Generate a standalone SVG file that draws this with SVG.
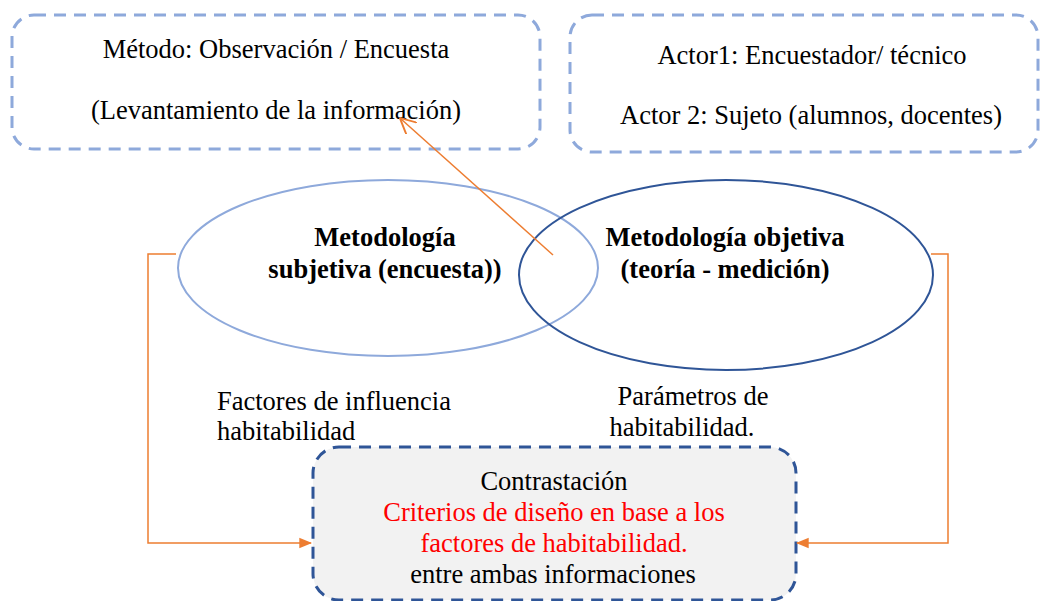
<svg xmlns="http://www.w3.org/2000/svg" width="1041" height="601" viewBox="0 0 1041 601">
<style>
.red{fill:#FF0000;}
.lb{fill:none;stroke:#8EA9DB;stroke-width:3;stroke-dasharray:12 8;}
.db{fill:#F2F2F2;stroke:#2F5597;stroke-width:3;stroke-dasharray:12 8;}
.conn{fill:none;stroke:#ED7D31;stroke-width:1.5;}
</style>
<defs>
<marker id="tri" viewBox="0 0 10 10" refX="9" refY="5" markerWidth="13" markerHeight="13" markerUnits="userSpaceOnUse" orient="auto"><path d="M0,1 L10,5 L0,9 z" fill="#ED7D31"/></marker>
<marker id="open" viewBox="0 0 10 10" refX="9" refY="5" markerWidth="16" markerHeight="16" markerUnits="userSpaceOnUse" orient="auto"><path d="M0,0 L10,5 L0,10" fill="none" stroke="#ED7D31" stroke-width="1.2"/></marker>
</defs>
<g font-family="'Liberation Serif', 'Times New Roman', serif" font-size="26.5" fill="#000">
<g id="metodo">
<rect class="lb" x="12" y="15" width="528" height="134" rx="22"/>
<text x="276" y="58" text-anchor="middle">Método: Observación / Encuesta</text>
<text x="276" y="119" text-anchor="middle">(Levantamiento de la información)</text>
</g>
<g id="actores">
<rect class="lb" x="570" y="15" width="468" height="137" rx="22"/>
<text x="812" y="64" text-anchor="middle">Actor1: Encuestador/ técnico</text>
<text x="811" y="124" text-anchor="middle">Actor 2: Sujeto (alumnos, docentes)</text>
</g>
<g id="subjetiva">
<ellipse cx="388" cy="268" rx="210" ry="88" fill="none" stroke="#8EA9DB" stroke-width="2"/>
<text font-weight="bold" x="385" y="246" text-anchor="middle">Metodología</text>
<text font-weight="bold" x="385" y="278" text-anchor="middle">subjetiva (encuesta))</text>
</g>
<g id="objetiva">
<ellipse cx="726" cy="275" rx="207" ry="95" fill="none" stroke="#2F5597" stroke-width="2"/>
<text font-weight="bold" x="725" y="246" text-anchor="middle">Metodología objetiva</text>
<text font-weight="bold" x="725" y="278" text-anchor="middle">(teoría - medición)</text>
</g>
<g id="labels">
<text x="217" y="410">Factores de influencia</text>
<text x="217" y="440">habitabilidad</text>
<text x="693" y="405" text-anchor="middle">Parámetros de</text>
<text x="682" y="436" text-anchor="middle">habitabilidad.</text>
</g>
<g id="contrastacion">
<rect class="db" x="313" y="447" width="483" height="153" rx="26"/>
<text x="554" y="490" text-anchor="middle">Contrastación</text>
<text class="red" x="554" y="521" text-anchor="middle">Criterios de diseño en base a los</text>
<text class="red" x="554" y="552" text-anchor="middle">factores de habitabilidad.</text>
<text x="553" y="583" text-anchor="middle">entre ambas informaciones</text>
</g>
</g>
<g id="connectors">
<line class="conn" x1="553" y1="255" x2="401" y2="119" marker-end="url(#open)"/>
<polyline class="conn" points="176,254 148,254 148,543 311,543" marker-end="url(#tri)"/>
<polyline class="conn" points="931,254 948,254 948,543 797,543" marker-end="url(#tri)"/>
</g>
</svg>
